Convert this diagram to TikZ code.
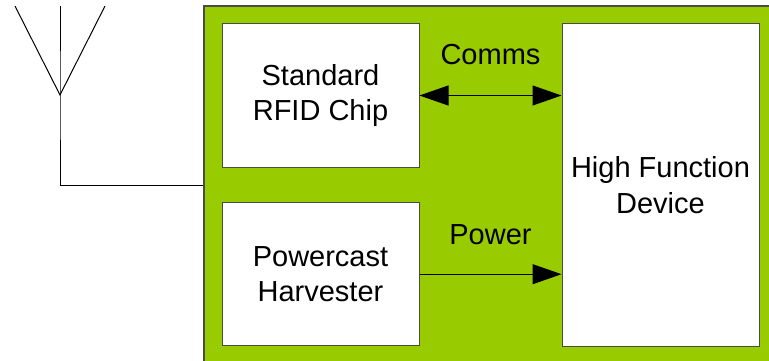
\documentclass[tikz,border=0pt]{standalone}
\usepackage{fontspec}
\setmainfont{Liberation Sans}
\usetikzlibrary{arrows.meta}
\definecolor{boardgreen}{HTML}{99CC00}
\definecolor{edgegray}{HTML}{4A4A4A}
\begin{document}
\begin{tikzpicture}[x=1pt,y=-1pt,
  board/.style={draw=edgegray, line width=1.2pt, fill=boardgreen, inner sep=0pt},
  box/.style={draw=edgegray, line width=1pt, fill=white, align=center, inner sep=0pt,
    font=\fontsize{29}{35.7}\selectfont},
  lbl/.style={font=\fontsize{29}{35.7}\selectfont, anchor=base, inner sep=0pt},
  wire/.style={draw=black, line width=1pt},
  arr/.style={draw=black, line width=1pt, -{Triangle[length=29pt,width=20pt]}},
  darr/.style={draw=black, line width=1pt, {Triangle[length=29pt,width=20pt]}-{Triangle[length=29pt,width=20pt]}}]
\useasboundingbox (0,0) rectangle (769,361);
\node[board, minimum width=600pt, minimum height=400pt] (board) at (504,206) {};
\node[box, minimum width=197pt, minimum height=143pt] (rfid) at (320.5,95.5) {Standard\\RFID Chip};
\node[box, minimum width=197pt, minimum height=143pt] (pc) at (320.5,274.2) {Powercast\\Harvester};
\node[box, minimum width=197pt, minimum height=322pt] (hfd) at (660.5,185) {High Function\\Device};
\draw[darr] (rfid.east) -- (rfid.east -| hfd.west)
  node[lbl, midway, yshift=30.5pt] (comms) {Comms};
\draw[arr] (pc.east) -- (pc.east -| hfd.west)
  node[lbl, midway, yshift=30.2pt] (power) {Power};
\coordinate (feed) at (60,95);
\coordinate (tipl) at (15,6);
\coordinate (tipm) at (60,6);
\coordinate (tipr) at (105,6);
\coordinate (bend) at (60,185);
\draw[wire] (tipl) -- (feed) -- (tipr);
\draw[wire] (tipm) -- (feed) -- (bend) -- (bend -| board.west);
\end{tikzpicture}
\end{document}
